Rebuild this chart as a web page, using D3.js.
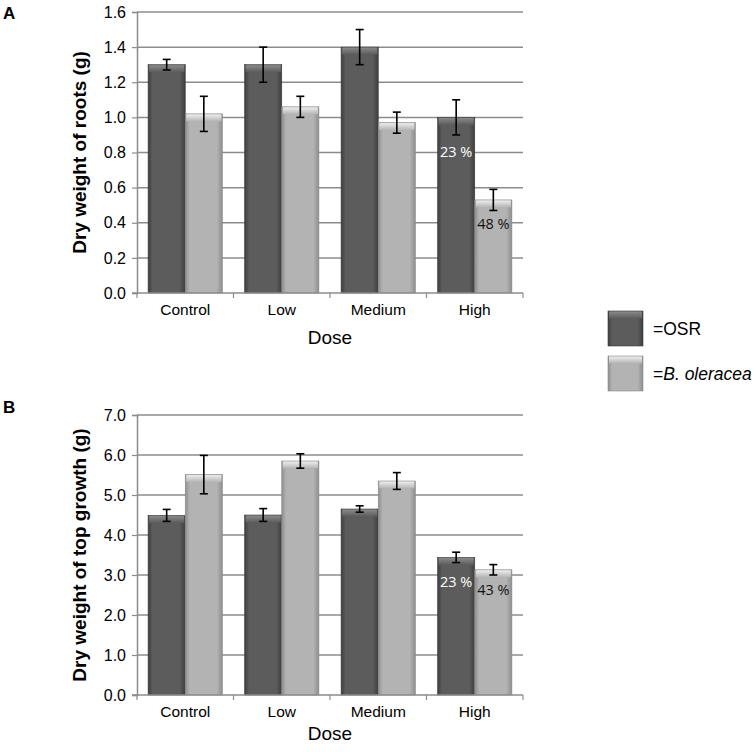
<!DOCTYPE html>
<html><head><meta charset="utf-8">
<script src="https://cdn.jsdelivr.net/npm/d3@7"></script>
<style>body{margin:0;background:#fff}svg{display:block}</style>
</head><body>
<script>
const categories = ["Control", "Low", "Medium", "High"];
const series = ["OSR", "B. oleracea"];
// Panel A: dry weight of roots (g)
const rootsOSR = [1.30, 1.30, 1.40, 1.00];
const rootsOSRErr = [0.03, 0.10, 0.10, 0.10];
const rootsBol = [1.02, 1.06, 0.97, 0.53];
const rootsBolErr = [0.10, 0.06, 0.06, 0.06];
const rootsTicks = [0.0, 0.2, 0.4, 0.6, 0.8, 1.0, 1.2, 1.4, 1.6];
const rootsLabels = [null, null, null, "23 %", null, null, null, "48 %"];
// Panel B: dry weight of top growth (g)
const topOSR = [4.49, 4.50, 4.65, 3.44];
const topOSRErr = [0.15, 0.16, 0.08, 0.13];
const topBol = [5.51, 5.85, 5.35, 3.13];
const topBolErr = [0.48, 0.18, 0.21, 0.13];
const topTicks = [0, 1, 2, 3, 4, 5, 6, 7];
const topLabels = [null, null, null, "23 %", null, null, null, "43 %"];

const W = 756, H = 752;
const svg = d3.select("body").append("svg").attr("width", W).attr("height", H);
const defs = svg.append("defs");

function mkGrad(id, edge, mid) {
  const g = defs.append("linearGradient").attr("id", id).attr("x1", "0").attr("x2", "1").attr("y1", "0").attr("y2", "0");
  g.append("stop").attr("offset", "0").attr("stop-color", edge);
  g.append("stop").attr("offset", "0.12").attr("stop-color", mid);
  g.append("stop").attr("offset", "0.85").attr("stop-color", mid);
  g.append("stop").attr("offset", "1").attr("stop-color", edge);
}
function mkTop(id, c1, c2) {
  const g = defs.append("linearGradient").attr("id", id).attr("x1", "0").attr("x2", "0").attr("y1", "0").attr("y2", "1");
  g.append("stop").attr("offset", "0").attr("stop-color", c1);
  g.append("stop").attr("offset", "1").attr("stop-color", c2);
}
mkGrad("gDark", "#3e3e3e", "#5c5c5c");
mkGrad("gLight", "#8e8e8e", "#b3b3b3");
mkTop("tDark", "#8a8a8a", "#5c5c5c");
mkTop("tLight", "#eeeeee", "#b3b3b3");
const fills = [["url(#gDark)", "url(#tDark)", "#3a3a3a"], ["url(#gLight)", "url(#tLight)", "#8a8a8a"]];

const font = "Liberation Sans, Arial, sans-serif";

function panel(opts) {
  const {left, right, top, bottom, ticks, vals, errs, labels, title, letter, letterY, fmt} = opts;
  const y = d3.scaleLinear().domain([ticks[0], ticks[ticks.length - 1]]).range([bottom, top]);
  const x0 = d3.scaleBand().domain(categories).range([left, right]).paddingInner(0.23).paddingOuter(0.115);
  const x1 = d3.scaleBand().domain(series).range([0, x0.bandwidth()]);
  const cat = d3.scaleBand().domain(categories).range([left, right]);
  const g = svg.append("g");
  // gridlines
  g.selectAll(".grid").data(ticks.slice(1)).enter().append("line")
    .attr("x1", left).attr("x2", right).attr("y1", d => y(d)).attr("y2", d => y(d))
    .attr("stroke", "#8c8c8c").attr("stroke-width", 1.5);
  // y axis
  const ya = d3.axisLeft(y).tickValues(ticks).tickFormat(d3.format(fmt)).tickSize(5).tickPadding(6);
  const yg = g.append("g").attr("transform", `translate(${left},0)`).call(ya);
  yg.select(".domain").attr("stroke", "#8c8c8c").attr("stroke-width", 1.5);
  yg.selectAll(".tick line").attr("stroke", "#8c8c8c").attr("stroke-width", 1.2);
  yg.selectAll("text").attr("font-family", font).attr("font-size", 16).attr("fill", "#000");
  // bars
  series.forEach((s, si) => {
    const data = categories.map((c, i) => ({c, v: vals[si][i], e: errs[si][i], lab: labels[si * 4 + i]}));
    const bg = g.append("g");
    bg.selectAll("rect.bar").data(data).enter().append("rect")
      .attr("x", d => x0(d.c) + x1(s)).attr("width", x1.bandwidth())
      .attr("y", d => y(d.v)).attr("height", d => y(0) - y(d.v))
      .attr("fill", fills[si][0]).attr("stroke", fills[si][2]).attr("stroke-width", 0.6);
    bg.selectAll("rect.top").data(data).enter().append("rect")
      .attr("x", d => x0(d.c) + x1(s) + 1).attr("width", x1.bandwidth() - 2)
      .attr("y", d => y(d.v) + 0.5).attr("height", 7)
      .attr("fill", fills[si][1]);
    // error bars
    const eg = g.append("g").attr("stroke", "#000").attr("stroke-width", 1.6);
    data.forEach(d => {
      const cx = x0(d.c) + x1(s) + x1.bandwidth() / 2;
      eg.append("line").attr("x1", cx).attr("x2", cx).attr("y1", y(d.v + d.e)).attr("y2", y(d.v - d.e));
      eg.append("line").attr("x1", cx - 4).attr("x2", cx + 4).attr("y1", y(d.v + d.e)).attr("y2", y(d.v + d.e));
      eg.append("line").attr("x1", cx - 4).attr("x2", cx + 4).attr("y1", y(d.v - d.e)).attr("y2", y(d.v - d.e));
      if (d.lab) {
        g.append("text").attr("x", cx).attr("y", y(d.v) + (opts.labOff[si]))
          .attr("text-anchor", "middle").attr("font-family", "Open Sans, DejaVu Sans, sans-serif")
          .attr("font-size", 14.5).attr("fill", si === 0 ? "#fff" : "#111").text(d.lab);
      }
    });
  });
  // x axis
  const xa = g.append("g");
  xa.append("line").attr("x1", left - 5).attr("x2", right).attr("y1", bottom).attr("y2", bottom)
    .attr("stroke", "#8c8c8c").attr("stroke-width", 1.5);
  [left, ...categories.map(c => cat(c) + cat.bandwidth())].forEach(px => {
    xa.append("line").attr("x1", px).attr("x2", px).attr("y1", bottom).attr("y2", bottom + 5)
      .attr("stroke", "#8c8c8c").attr("stroke-width", 1.2);
  });
  xa.selectAll("text").data(categories).enter().append("text")
    .attr("x", d => cat(d) + cat.bandwidth() / 2).attr("y", bottom + 22)
    .attr("text-anchor", "middle").attr("font-family", font).attr("font-size", 15.5).text(d => d);
  g.append("text").attr("x", (left + right) / 2).attr("y", bottom + opts.doseOff)
    .attr("text-anchor", "middle").attr("font-family", font).attr("font-size", 19).text("Dose");
  g.append("text").attr("transform", `translate(${opts.titleX},${(top + bottom) / 2}) rotate(-90)`)
    .attr("text-anchor", "middle").attr("font-family", font).attr("font-size", 19).attr("font-weight", "bold").text(title);
  svg.append("text").attr("x", 3).attr("y", letterY).attr("font-family", font).attr("font-size", 17)
    .attr("font-weight", "bold").text(letter);
}

panel({left: 137, right: 523, top: 12, bottom: 293, ticks: rootsTicks,
  vals: [rootsOSR, rootsBol], errs: [rootsOSRErr, rootsBolErr], labels: rootsLabels,
  title: "Dry weight of roots (g)", letter: "A", letterY: 19, fmt: ".1f", titleX: 86, labOff: [40, 29], doseOff: 51});
panel({left: 137, right: 523, top: 415, bottom: 695, ticks: topTicks,
  vals: [topOSR, topBol], errs: [topOSRErr, topBolErr], labels: topLabels,
  title: "Dry weight of top growth (g)", letter: "B", letterY: 413, fmt: ".1f", titleX: 86, labOff: [30, 25], doseOff: 45});

// legend
const leg = svg.append("g");
const legItems = [{t: "=OSR", i: 0, y: 311}, {t: "B. oleracea", i: 1, y: 356}];
legItems.forEach(d => {
  leg.append("rect").attr("x", 608).attr("y", d.y).attr("width", 35).attr("height", 35)
    .attr("fill", fills[d.i][0]).attr("stroke", fills[d.i][2]).attr("stroke-width", 0.6);
  leg.append("rect").attr("x", 609).attr("y", d.y + 0.5).attr("width", 33).attr("height", 7).attr("fill", fills[d.i][1]);
  const t = leg.append("text").attr("x", 653).attr("y", d.y + 24).attr("font-family", font).attr("font-size", 17.5);
  if (d.i === 0) t.text(d.t);
  else { t.append("tspan").text("="); t.append("tspan").attr("font-style", "italic").text(d.t); }
});
</script>
</body></html>
